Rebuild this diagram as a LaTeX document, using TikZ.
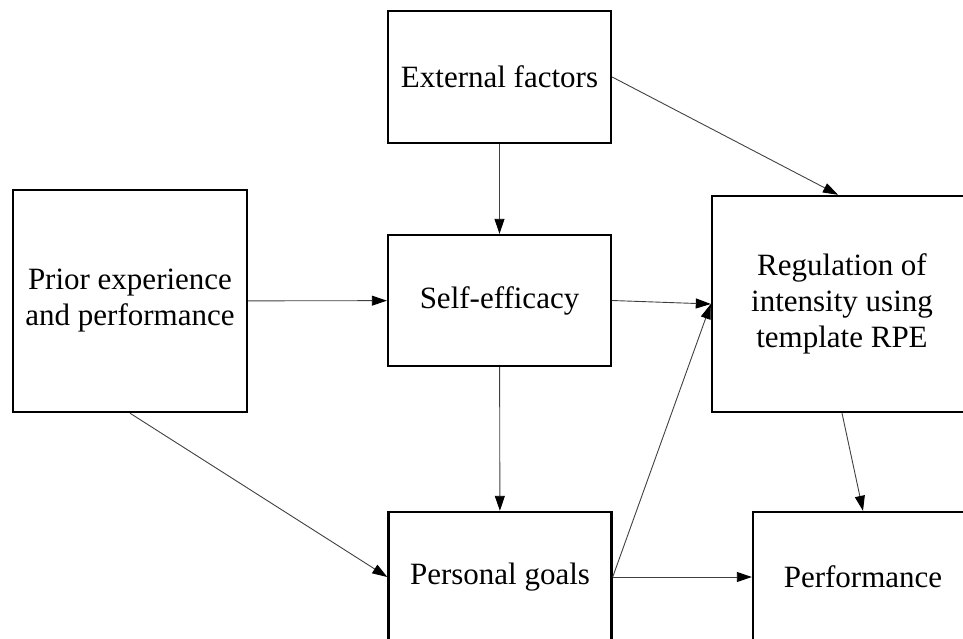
\documentclass[tikz,border=0pt]{standalone}
\usepackage{fontspec}
\setmainfont{Liberation Serif}
\usetikzlibrary{arrows.meta}
\tikzset{
  box/.style={draw, line width=2.4pt, align=center, inner sep=0pt, font=\fontsize{31}{36}\selectfont},
  link/.style={line width=0.9pt, draw=black!75, -{Triangle[length=15pt,width=10pt,color=black]}},
}
\begin{document}
\begin{tikzpicture}[x=1pt,y=-1pt]
	\useasboundingbox (0,0) rectangle (963,638);
	\clip (0,0) rectangle (963,638);
	\node[box, minimum width=223pt, minimum height=132pt] (ext) at (499.5,77) {External factors};
	\node[box, minimum width=234pt, minimum height=222pt] (prior) at (130,301) {Prior experience\\and performance};
	\node[box, minimum width=223pt, minimum height=131pt] (self) at (499.5,300.5) {Self-efficacy};
	\node[box, minimum width=260pt, minimum height=216pt] (reg) at (842,304) {Regulation of\\intensity using\\template RPE};
	\node[box, minimum width=223pt, minimum height=130pt] (goals) at (500,577) {Personal goals};
	\node[box, minimum width=220pt, minimum height=130pt] (perf) at (863,577) {Performance};
	\draw[link] (ext) -- (self);
	\draw[link] (ext.east) -- ([xshift=-4pt]reg.north);
	\draw[link] (prior) -- (self);
	\draw[link] (self.east) -- (reg.west);
	\draw[link] (self) -- (goals);
	\draw[link] (prior.south) -- (goals.west);
	\draw[link] (goals.east) -- (reg.west);
	\draw[link] (goals) -- (perf);
	\draw[link] (reg.south) -- (perf.north);
\end{tikzpicture}
\end{document}
